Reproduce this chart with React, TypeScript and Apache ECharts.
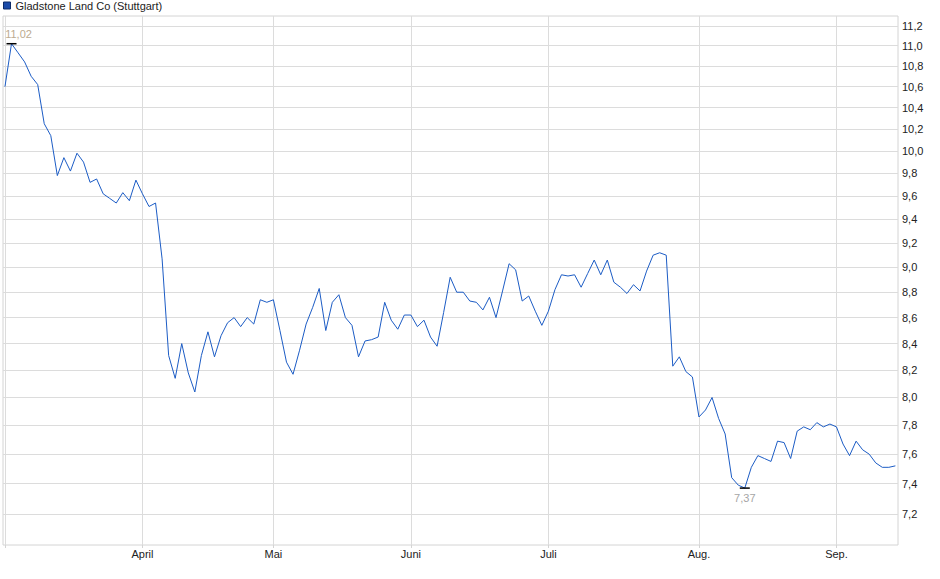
import * as echarts from "echarts";
import { useEffect, useRef } from "react";

// daily closes, Stuttgart, EUR
const prices: number[] = [
  10.6, 11.02, 10.93, 10.84, 10.7, 10.62, 10.25, 10.14, 9.78, 9.94,
  9.82, 9.98, 9.9, 9.72, 9.75, 9.62, 9.58, 9.54, 9.63, 9.56,
  9.74, 9.62, 9.51, 9.54, 9.07, 8.31, 8.14, 8.4, 8.18, 8.04,
  8.31, 8.49, 8.3, 8.46, 8.56, 8.6, 8.53, 8.6, 8.55, 8.74,
  8.72, 8.74, 8.5, 8.26, 8.17, 8.35, 8.55, 8.68, 8.83, 8.5,
  8.72, 8.78, 8.6, 8.54, 8.3, 8.42, 8.43, 8.45, 8.72, 8.58,
  8.51, 8.62, 8.62, 8.53, 8.58, 8.45, 8.38, 8.64, 8.92, 8.8,
  8.8, 8.73, 8.72, 8.66, 8.76, 8.6, 8.81, 9.03, 8.98, 8.73,
  8.77, 8.65, 8.54, 8.65, 8.82, 8.94, 8.93, 8.94, 8.84, 8.95,
  9.06, 8.94, 9.06, 8.88, 8.84, 8.79, 8.86, 8.81, 8.97, 9.1,
  9.12, 9.1, 8.23, 8.3, 8.19, 8.15, 7.86, 7.91, 8.0, 7.85,
  7.74, 7.44, 7.39, 7.37, 7.51, 7.59, 7.57, 7.55, 7.69, 7.68,
  7.57, 7.76, 7.79, 7.77, 7.82, 7.79, 7.81, 7.79, 7.67, 7.59,
  7.69, 7.63, 7.6, 7.54, 7.51, 7.51, 7.52,
];

const monthNames = ["April", "Mai", "Juni", "Juli", "Aug.", "Sep."];
const monthStarts = [21, 41, 62, 83, 106, 127];
const priceTicks = [
  7.2, 7.4, 7.6, 7.8, 8.0, 8.2, 8.4, 8.6, 8.8, 9.0, 9.2, 9.4, 9.6, 9.8,
  10.0, 10.2, 10.4, 10.6, 10.8, 11.0, 11.2,
];
const seriesName = "Gladstone Land Co (Stuttgart)";

const font = "'Liberation Sans', Arial, sans-serif";
const deNum = (v: number, d: number) => v.toFixed(d).replace(".", ",");

const App = () => {
  const chartRef = useRef<HTMLDivElement>(null);

  useEffect(() => {
    if (!chartRef.current) return;
    document.body.style.margin = "0";

    const chart = echarts.init(chartRef.current, null, { renderer: "svg" });

    // log price scale: plot ln(price) on a value axis
    const logTicks = priceTicks.map((t) => Math.log(t));

    chart.setOption({
      animation: false,
      textStyle: { fontFamily: font },
      legend: {
        left: 3,
        top: 0,
        padding: 0,
        icon: "rect",
        itemWidth: 7,
        itemHeight: 7,
        itemGap: 5,
        textStyle: { fontSize: 11, color: "#222", fontFamily: font },
        data: [
          {
            name: seriesName,
            itemStyle: { color: "#1a4aa8", borderColor: "#0c2b68", borderWidth: 1 },
          },
        ],
      },
      grid: {
        left: 3,
        right: 42,
        top: 16,
        bottom: 34,
        show: true,
        borderColor: "#d4d4d4",
        borderWidth: 1,
      },
      xAxis: {
        type: "value",
        min: -0.3,
        max: 136.4,
        axisLine: { show: false },
        axisTick: {
          show: true,
          length: 3,
          customValues: [0, ...monthStarts],
          lineStyle: { color: "#d4d4d4" },
        },
        axisLabel: {
          customValues: monthStarts,
          formatter: (v: number) => monthNames[monthStarts.indexOf(Math.round(v))] ?? "",
          margin: 3,
          fontSize: 11,
          color: "#222",
          fontFamily: font,
        },
        splitLine: { show: true, lineStyle: { color: "#dcdcdc", width: 1 } },
      },
      yAxis: {
        type: "value",
        position: "right",
        min: Math.log(7.0),
        max: Math.log(11.3),
        axisLine: { show: false },
        axisTick: { show: false, customValues: logTicks },
        axisLabel: {
          customValues: logTicks,
          formatter: (v: number) => deNum(Math.exp(v), 1),
          margin: 4,
          fontSize: 11,
          color: "#222",
          fontFamily: font,
        },
        splitLine: { show: true, lineStyle: { color: "#dcdcdc", width: 1 } },
      },
      series: [
        {
          name: seriesName,
          type: "line",
          showSymbol: false,
          symbol: "none",
          lineStyle: { color: "#1c5cc5", width: 1 },
          itemStyle: { color: "#1a4aa8" },
          data: prices.map((p, i) => [i, Math.log(p)]),
          markPoint: {
            symbol: "rect",
            symbolSize: [10, 1.5],
            itemStyle: { color: "#000" },
            data: [
              {
                type: "max",
                label: {
                  position: "top",
                  distance: 3,
                  offset: [7, 0],
                  color: "#bcab90",
                  fontSize: 11,
                  fontFamily: font,
                  formatter: (p: any) => deNum(Math.exp(p.value), 2),
                },
              },
              {
                type: "min",
                label: {
                  position: "bottom",
                  distance: 4,
                  color: "#a6a6a6",
                  fontSize: 11,
                  fontFamily: font,
                  formatter: (p: any) => deNum(Math.exp(p.value), 2),
                },
              },
            ],
          },
        },
      ],
    });

    return () => {
      chart.dispose();
    };
  }, []);

  return <div ref={chartRef} style={{ width: "940px", height: "579px" }} />;
};

export default App;
